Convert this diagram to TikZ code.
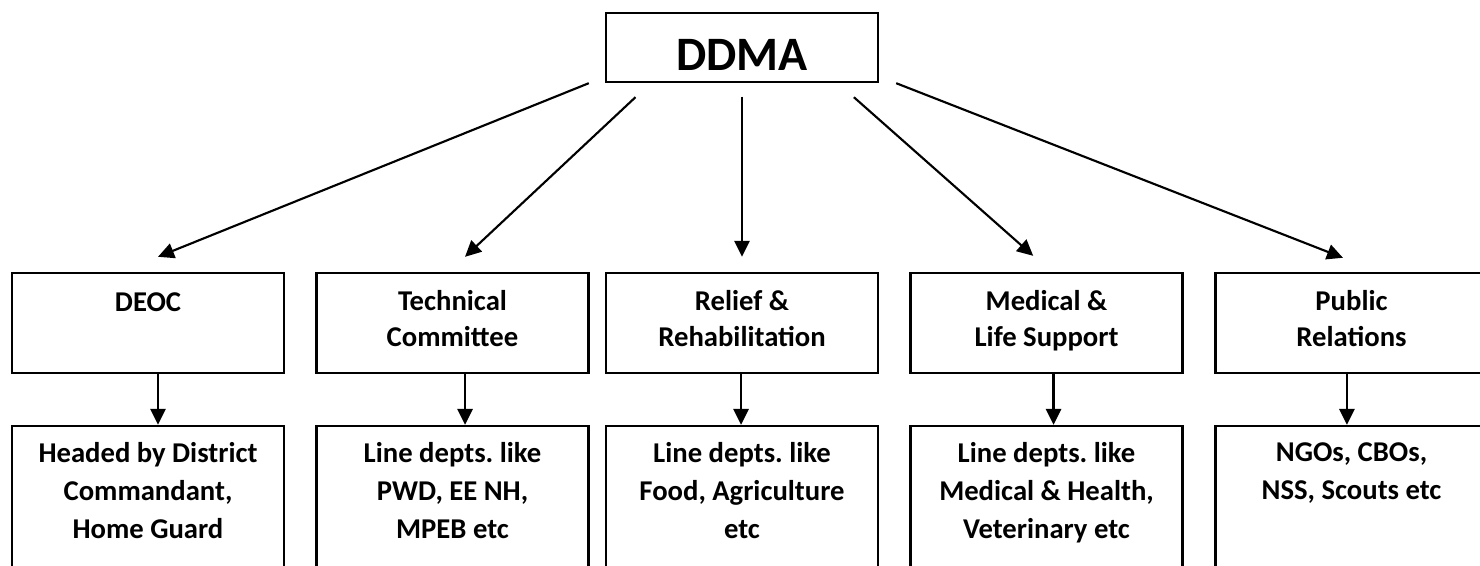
\documentclass[tikz,border=0pt]{standalone}
\usepackage{fontspec}
\setmainfont{Carlito}
\usetikzlibrary{arrows.meta}
\usetikzlibrary{positioning}

\tikzset{
  boxnode/.style={draw,line width=1.8pt,minimum width=204pt,inner sep=0pt},
  topbox/.style={boxnode,minimum height=51.75pt},
  midbox/.style={boxnode,minimum height=75pt},
  lowbox/.style={boxnode,minimum height=112.5pt},
  midtext/.style={font=\bfseries\fontsize{21.5}{27}\selectfont,align=center,inner sep=0pt},
  lowtext/.style={font=\bfseries\fontsize{21.5}{28.5}\selectfont,align=center,inner sep=0pt},
  flow/.style={-{Triangle[length=12pt,width=11.5pt]},line width=1.6pt},
}

\begin{document}
\begin{tikzpicture}[x=0.75pt,y=-0.75pt]
			\useasboundingbox (0,0) rectangle (1480,565);
			\clip (0,0) rectangle (1480,565);
			% top
			\node(ddma) at (742,47.5)[topbox]{};
			\node(ddmatext) at (742,55)[font=\bfseries\fontsize{36}{40}\selectfont,inner sep=0pt]{DDMA};
			
			% middle row
			\node(deoc) at (148,323)[midbox]{};
			\node(tech) at (452.5,323)[midbox]{};
			\node(relief) at (742,323)[midbox]{};
			\node(medical) at (1046.5,323)[midbox]{};
			\node(public) at (1351.5,323)[midbox]{};
			\node(deoctext)[midtext,below=15.5pt of deoc.north]{DEOC};
			\node(techtext)[midtext,below=14pt of tech.north]{Technical\\Committee};
			\node(relieftext)[midtext,below=14pt of relief.north]{Relief \&\\Rehabilitation};
			\node(medicaltext)[midtext,below=14pt of medical.north]{Medical \&\\Life Support};
			\node(publictext)[midtext,below=14pt of public.north]{Public\\Relations};
			
			% bottom row
			\node(headed) at (148,501)[lowbox]{};
			\node(pwd) at (452.5,501)[lowbox]{};
			\node(food) at (742,501)[lowbox]{};
			\node(health) at (1046.5,501)[lowbox]{};
			\node(ngo) at (1351.5,501)[lowbox]{};
			\node(headedtext)[lowtext,below=13pt of headed.north]{Headed by District\\Commandant,\\Home Guard};
			\node(pwdtext)[lowtext,below=13pt of pwd.north]{Line depts.\ like\\PWD, EE NH,\\MPEB etc};
			\node(foodtext)[lowtext,below=13pt of food.north]{Line depts.\ like\\Food, Agriculture\\etc};
			\node(healthtext)[lowtext,below=13pt of health.north]{Line depts.\ like\\Medical \& Health,\\Veterinary etc};
			\node(ngotext)[lowtext,below=13pt of ngo.north]{NGOs, CBOs,\\NSS, Scouts etc};
			
			\draw[flow]([xshift=-12pt]ddma.south west) to ([xshift=7.5pt,yshift=11.25pt]deoc.north);
			\draw[flow]([xshift=23pt,yshift=-10.5pt]ddma.south west) to ([xshift=9.4pt,yshift=11.25pt]tech.north);
			\draw[flow]([yshift=-10pt]ddma.south) to ([yshift=11.25pt]relief.north);
			\draw[flow]([xshift=-19pt,yshift=-10.5pt]ddma.south east) to ([xshift=-10pt,yshift=12pt]medical.north);
			\draw[flow]([xshift=12.75pt]ddma.south east) to ([xshift=-6.4pt,yshift=10.5pt]public.north);
			
			\draw[flow]([xshift=7.5pt]deoc.south) to ([xshift=7.5pt]headed.north);
			\draw[flow]([xshift=9.4pt]tech.south) to ([xshift=9.4pt]pwd.north);
			\draw[flow]([xshift=-0.75pt]relief.south) to ([xshift=-0.75pt]food.north);
			\draw[flow]([xshift=5.25pt]medical.south) to ([xshift=5.25pt]health.north);
			\draw[flow]([xshift=-3.4pt]public.south) to ([xshift=-3.4pt]ngo.north);
		\end{tikzpicture}
\end{document}
